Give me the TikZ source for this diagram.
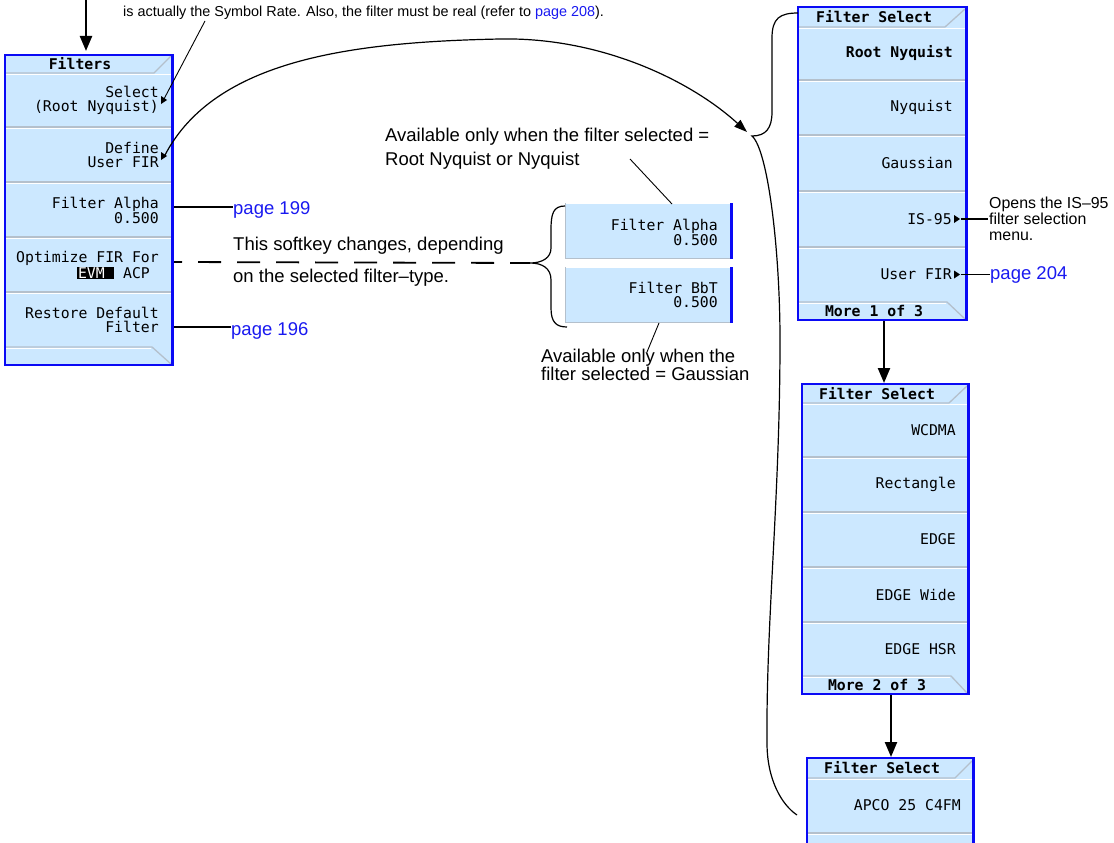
\documentclass[tikz,border=0pt]{standalone}
\usepackage{fontspec}
\setmainfont{Liberation Sans}
\newfontfamily\keyfont{DejaVu Sans Mono}
\usetikzlibrary{arrows.meta}
\definecolor{keyfill}{RGB}{204,232,255}
\definecolor{menublue}{RGB}{10,10,245}
\definecolor{linkblue}{RGB}{25,25,240}
\definecolor{sepgray}{RGB}{180,192,204}
\newcommand\keysep[3]{%
  \draw[sepgray,line width=1.3pt] (#1,#3) -- (#2,#3);
  \draw[white,line width=1pt] (#1,#3+1.6) -- (#2,#3+1.6);}
\newcommand\subtri[2]{\fill (#1,#2-4) -- (#1+6,#2) -- (#1,#2+4) -- cycle;}
\begin{document}
\begin{tikzpicture}[x=1pt,y=-1pt,
  keytext/.style={font=\keyfont\fontsize{14.8}{14}\selectfont, align=right, anchor=east, inner sep=0pt},
  boldkey/.style={keytext, font=\keyfont\bfseries\fontsize{14.8}{14}\selectfont},
  titletext/.style={font=\keyfont\bfseries\fontsize{14.8}{14}\selectfont, inner sep=0pt},
  note/.style={font=\fontsize{18.5}{22}\selectfont, anchor=base west, inner sep=0pt},
  smallnote/.style={note, font=\fontsize{15.9}{16}\selectfont},
  topnote/.style={note, font=\fontsize{14.4}{16}\selectfont},
  link/.style={note, text=linkblue},
  leader/.style={line width=1.8pt},
  thinleader/.style={line width=0.9pt},
  curveline/.style={line width=1.2pt},
  bigarrow/.style={line width=2.3pt, -{Triangle[length=15pt,width=12pt]}},
  curvearrow/.style={curveline, -{Triangle[length=13pt,width=9pt]}},
]
\useasboundingbox (0,0) rectangle (1114,843);

% ---------------- left menu: Filters ----------------
\fill[keyfill] (5,55) rectangle (173,365);
\foreach \yy in {127,182,237,292} {\keysep{6}{171}{\yy}}
\draw[sepgray,line width=1.3pt] (6,73) -- (154,73) -- (171,56);
\draw[white,line width=1pt] (6,74.6) -- (171,74.6);
\draw[sepgray,line width=1.3pt] (6,347) -- (152,347) -- (171,364);
\draw[white,line width=1pt] (6,348.6) -- (151,348.6);
\draw[menublue,line width=2pt] (5,55) rectangle (173,365);
\draw[menublue,line width=3pt] (172,54) -- (172,366);

\node[titletext] (fTitle) at (80,64) {Filters};
\node[keytext] (kSelect) at (159,100) {Select\\(Root Nyquist)};
\node[keytext] (kDefine) at (159,155) {Define\\User FIR};
\node[keytext] (kAlpha) at (159,210) {Filter Alpha\\0.500};
\node[keytext] (kOpt) at (159,265) {Optimize FIR For\\{\fboxsep=0.6pt\colorbox{black}{\textcolor{white}{ EVM }}} ACP\phantom{x}};
\node[keytext] (kRestore) at (159,320) {Restore Default\\Filter};
\subtri{161}{100}
\subtri{161}{156}
\coordinate (selTip) at (164,99);
\coordinate (defTip) at (165,155);
\coordinate (fTop) at (86,51);
\coordinate (topStart) at (86,0);

% ---------------- middle softkeys ----------------
\fill[keyfill] (565,203) rectangle (733,259);
\draw[white,line width=1pt] (565,203.5) -- (730,203.5);
\draw[sepgray,line width=1.3pt] (565,258.5) -- (730,258.5);
\draw[sepgray,line width=1pt] (565.5,203) -- (565.5,259);
\draw[menublue,line width=3pt] (731.5,203) -- (731.5,259);
\fill[keyfill] (565,267) rectangle (733,323);
\draw[white,line width=1pt] (565,267.5) -- (730,267.5);
\draw[sepgray,line width=1.3pt] (565,322.5) -- (730,322.5);
\draw[sepgray,line width=1pt] (565.5,267) -- (565.5,323);
\draw[menublue,line width=3pt] (731.5,267) -- (731.5,323);
\node[keytext] (mAlpha) at (718,232) {Filter Alpha\\0.500};
\node[keytext] (mBbT) at (718,295) {Filter BbT\\0.500};
\coordinate (mAlphaTop) at (672,204);
\coordinate (mBbTBot) at (659,323);
\coordinate (midTip) at (530,263);

% ---------------- right menu 1 ----------------
\fill[keyfill] (798,7) rectangle (967,320);
\foreach \yy in {80,135,191,247} {\keysep{799}{965}{\yy}}
\draw[sepgray,line width=1.3pt] (799,27) -- (945,27) -- (965,9);
\draw[white,line width=1pt] (799,28.6) -- (965,28.6);
\draw[sepgray,line width=1.3pt] (799,302) -- (947,302) -- (965,319);
\draw[white,line width=1pt] (799,303.6) -- (946,303.6);
\draw[menublue,line width=2pt] (798,7) rectangle (967,320);
\draw[menublue,line width=3pt] (966,6) -- (966,321);
\node[titletext] (m1Title) at (874,17) {Filter Select};
\node[boldkey] (m1k1) at (953,53.5) {Root Nyquist};
\node[keytext] (m1k2) at (953,107.5) {Nyquist};
\node[keytext] (m1k3) at (953,163) {Gaussian};
\node[keytext] (m1k4) at (952,219) {IS-95};
\node[keytext] (m1k5) at (952,274.5) {User FIR};
\subtri{954}{219}
\subtri{954}{274.5}
\node[titletext] (m1More) at (874,311) {More 1 of 3};
\coordinate (m1Top) at (798,13);
\coordinate (m1Bot) at (884,321);
\coordinate (isTip) at (961,219);
\coordinate (ufTip) at (961,274.5);

% ---------------- right menu 2 ----------------
\fill[keyfill] (802,384) rectangle (969,694);
\foreach \yy in {457,512,567,622} {\keysep{803}{967}{\yy}}
\draw[sepgray,line width=1.3pt] (803,403) -- (949,403) -- (967,386);
\draw[white,line width=1pt] (803,404.6) -- (967,404.6);
\draw[sepgray,line width=1.3pt] (803,676) -- (951,676) -- (967,693);
\draw[white,line width=1pt] (803,677.6) -- (950,677.6);
\draw[menublue,line width=2pt] (802,384) rectangle (969,694);
\draw[menublue,line width=3pt] (968,383) -- (968,695);
\node[titletext] (m2Title) at (877,393.5) {Filter Select};
\node[keytext] (m2k1) at (956,430) {WCDMA};
\node[keytext] (m2k2) at (956,484.5) {Rectangle};
\node[keytext] (m2k3) at (956,539.5) {EDGE};
\node[keytext] (m2k4) at (956,594.5) {EDGE Wide};
\node[keytext] (m2k5) at (956,649) {EDGE HSR};
\node[titletext] (m2More) at (877,685) {More 2 of 3};
\coordinate (m2Top) at (884,383);
\coordinate (m2Bot) at (891,695);

% ---------------- right menu 3 ----------------
\fill[keyfill] (807,758) rectangle (974,850);
\keysep{808}{972}{833}
\draw[sepgray,line width=1.3pt] (808,778) -- (955,778) -- (972,761);
\draw[white,line width=1pt] (808,779.6) -- (972,779.6);
\draw[menublue,line width=2pt] (807,850) -- (807,758) -- (974,758) -- (974,850);
\draw[menublue,line width=3pt] (973,757) -- (973,850);
\node[titletext] (m3Title) at (882,768) {Filter Select};
\node[keytext] (m3k1) at (961,805) {APCO 25 C4FM};
\coordinate (m3Top) at (891,757);
\coordinate (m3Side) at (797,815);

% ---------------- texts ----------------
\node[topnote] (tnote) at (123,17) {is actually the Symbol Rate. Also, the filter must be real (refer to \textcolor{linkblue}{page 208}).};
\coordinate (tnoteFoot) at (205,21);
\node[note] (avail1) at (385,141) {Available only when the filter selected =};
\node[note] (avail2) at (385,165) {Root Nyquist or Nyquist};
\coordinate (avail2Foot) at (630,159);
\node[note] (chg1) at (233,250) {This softkey changes, depending};
\node[note] (chg2) at (233,282) {on the selected filter\textendash type.};
\node[note] (gauss1) at (541,362.5) {Available only when the};
\node[note] (gauss2) at (541,380) {filter selected = Gaussian};
\coordinate (gaussTop) at (647,352);
\node[link] (p199) at (233,214) {page 199};
\node[link] (p196) at (231,335) {page 196};
\node[link] (p204) at (990,279) {page 204};
\node[smallnote] (is1) at (989,208) {Opens the IS\textendash 95};
\node[smallnote] (is2) at (989,224) {filter selection};
\node[smallnote] (is3) at (989,240) {menu.};

% ---------------- connectors ----------------
\draw[bigarrow] (topStart) -- (fTop);
\draw[bigarrow] (m1Bot) -- (m2Top);
\draw[bigarrow] (m2Bot) -- (m3Top);
\draw[thinleader] (tnoteFoot) -- (selTip);
\draw[curvearrow] (defTip) .. controls (215,60) and (350,42) .. (500,39)
   .. controls (600,37) and (690,80) .. (747,132);
\coordinate (bigTip) at (752,136);
\draw[curveline] (m1Top) .. controls (780,13) and (772,18) .. (772,38)
   -- (772,112) .. controls (772,128) and (766,136) .. (bigTip)
   .. controls (768,150) and (780,250) .. (780,340)
   .. controls (780,500) and (766,620) .. (767,743)
   .. controls (767,780) and (782,805) .. (m3Side);
\draw[leader] (174,207) -- (p199.west |- 0,207);
\draw[leader] (174,327) -- (p196.west |- 0,327);
\draw[leader] (isTip) -- (988,219);
\draw[leader] (ufTip) -- (p204.west |- 0,274.5);
\draw[leader, dash pattern=on 23pt off 16pt, dash phase=15pt] (174,262) -- (midTip);
\draw[curveline] (565,206) .. controls (553,206) and (551,214) .. (551,230)
   -- (551,248) .. controls (551,258) and (542,263) .. (midTip)
   .. controls (542,263) and (551,268) .. (551,280)
   -- (551,308) .. controls (551,322) and (556,327) .. (567,327);
\draw[thinleader] (avail2Foot) -- (mAlphaTop);
\draw[thinleader] (mBbTBot) -- (gaussTop);
\end{tikzpicture}
\end{document}
